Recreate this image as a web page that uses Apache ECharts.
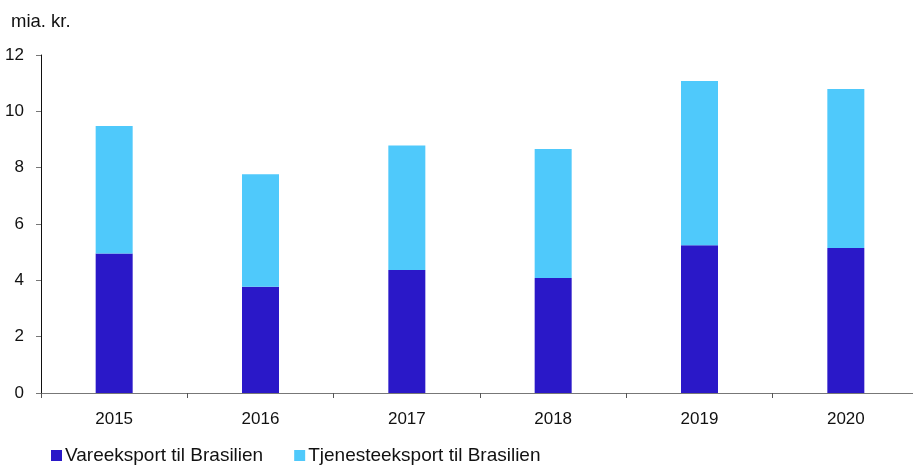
<!DOCTYPE html>
<html><head><meta charset="utf-8">
<script src="https://cdn.jsdelivr.net/npm/echarts@6/dist/echarts.min.js"></script>
<style>html,body{margin:0;padding:0;background:#fff;overflow:hidden;width:913px;height:466px}#c{width:920px;height:466px}</style>
</head><body><div id="c"></div>
<script>
const categories = ['2015','2016','2017','2018','2019','2020'];
const vareeksport = [4.95, 3.77, 4.37, 4.08, 5.25, 5.15];
const tjenesteeksport = [4.53, 4.00, 4.42, 4.58, 5.83, 5.64];
const seriesNames = ['Vareeksport til Brasilien', 'Tjenesteeksport til Brasilien'];
const yTicks = [0, 2, 4, 6, 8, 10, 12];

const font = 'Liberation Sans, Arial, sans-serif';
const chart = echarts.init(document.getElementById('c'));
chart.setOption({
  animation: false,
  textStyle: {fontFamily: font},
  graphic: [{type: 'text', left: 11, top: 12, style: {text: 'mia. kr.', fontSize: 18.5, fill: '#111', fontFamily: font}}],
  legend: {
    left: 46, top: 441, itemWidth: 11, itemHeight: 11, itemGap: 31,
    icon: 'rect',
    textStyle: {fontSize: 19, color: '#111', padding: [0, 0, 0, -2]},
    data: seriesNames
  },
  grid: {left: 41, right: 1, top: 55, bottom: 73, containLabel: false},
  xAxis: {
    type: 'category', data: categories,
    axisLine: {lineStyle: {color: '#777', width: 1}},
    axisTick: {show: true, length: 5, lineStyle: {color: '#555'}},
    axisLabel: {fontSize: 17, color: '#111', margin: 18}
  },
  yAxis: {
    type: 'value', min: yTicks[0], max: yTicks[yTicks.length-1], interval: 2,
    axisLine: {show: true, lineStyle: {color: '#111', width: 1}},
    axisTick: {show: true, length: 5, lineStyle: {color: '#777'}},
    splitLine: {show: false},
    axisLabel: {fontSize: 17, color: '#111', margin: 17}
  },
  series: [
    {name: seriesNames[0], type: 'bar', stack: 'a', data: vareeksport, barWidth: 37, itemStyle: {color: '#2a18c8'}},
    {name: seriesNames[1], type: 'bar', stack: 'a', data: tjenesteeksport, barWidth: 37, itemStyle: {color: '#4fc9fb'}}
  ]
});
</script></body></html>
